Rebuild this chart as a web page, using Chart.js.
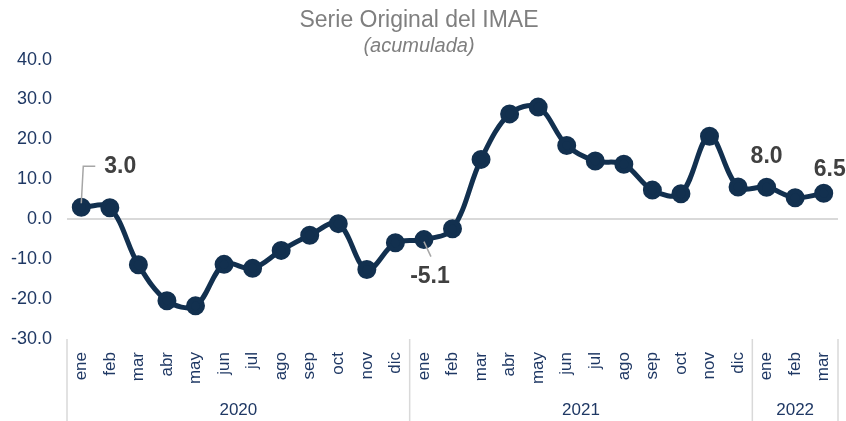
<!DOCTYPE html>
<html>
<head>
<meta charset="utf-8">
<script src="https://cdn.jsdelivr.net/npm/chart.js@4"></script>
<style>
  html, body { margin: 0; padding: 0; background: #fff; }
  #wrap { width: 846px; height: 421px; }
</style>
</head>
<body>
<div id="wrap"><canvas id="imae"></canvas></div>
<script>
// datos
const meses = ["ene","feb","mar","abr","may","jun","jul","ago","sep","oct","nov","dic",
               "ene","feb","mar","abr","may","jun","jul","ago","sep","oct","nov","dic",
               "ene","feb","mar"];
const anios = ["2020", "2021", "2022"];
const mesesPorAnio = [12, 12, 3];
const imae = [3.0, 2.9, -11.4, -20.4, -21.7, -11.3, -12.3, -7.8, -4.0, -1.1, -12.6, -5.9,
              -5.1, -2.4, 15.0, 26.4, 28.1, 18.5, 14.6, 13.8, 7.3, 6.4, 20.8, 8.1,
              8.0, 5.4, 6.5];
const etiquetados = [0, 12, 24, 26];
const yTicks = [-30, -20, -10, 0, 10, 20, 30, 40];

const azul = "#12304F";
const azulTexto = "#1F3864";
const gris = "#D9D9D9";

const etiquetasPlugin = {
    id: 'etiquetas',
    afterDatasetsDraw(chart) {
        const ctx = chart.ctx;
        const pts = chart.getDatasetMeta(0).data;
        // offsets de cada etiqueta respecto a su punto
        const pos = {
            0:  { dx: 39, dy: -41, lider: [[0, -4], [2, -41], [14, -41]] },
            12: { dx: 6, dy: 37, lider: [[0, 2], [7, 17]] },
            24: { dx: 0, dy: -31 },
            26: { dx: 6, dy: -24 }
        };
        ctx.save();
        etiquetados.forEach(i => {
            const p = pts[i];
            const o = pos[i];
            if (o.lider) {
                ctx.strokeStyle = "#A6A6A6";
                ctx.lineWidth = 1.5;
                ctx.beginPath();
                o.lider.forEach((d, k) => {
                    if (k === 0) ctx.moveTo(p.x + d[0], p.y + d[1]);
                    else ctx.lineTo(p.x + d[0], p.y + d[1]);
                });
                ctx.stroke();
            }
            ctx.fillStyle = "#404040";
            ctx.font = "bold 23px 'Liberation Sans', Arial, sans-serif";
            ctx.textAlign = "center";
            ctx.textBaseline = "middle";
            ctx.fillText(imae[i].toFixed(1), p.x + o.dx, p.y + o.dy);
        });
        ctx.restore();
    }
};

const aniosPlugin = {
    id: 'anios',
    afterDraw(chart) {
        const ctx = chart.ctx;
        const x = chart.scales.x;
        const area = chart.chartArea;
        const ancho = x.getPixelForValue(1) - x.getPixelForValue(0);
        ctx.save();
        ctx.strokeStyle = gris;
        ctx.lineWidth = 1.5;
        ctx.fillStyle = azulTexto;
        ctx.font = "17px 'Liberation Sans', Arial, sans-serif";
        ctx.textAlign = "center";
        ctx.textBaseline = "middle";
        let ini = 0;
        const linea = (px) => {
            ctx.beginPath();
            ctx.moveTo(px, area.bottom);
            ctx.lineTo(px, chart.height);
            ctx.stroke();
        };
        linea(x.getPixelForValue(0) - ancho / 2);
        anios.forEach((a, k) => {
            const fin = ini + mesesPorAnio[k] - 1;
            const izq = x.getPixelForValue(ini) - ancho / 2;
            const der = x.getPixelForValue(fin) + ancho / 2;
            linea(der);
            ctx.fillText(a, (izq + der) / 2, 410);
            ini = fin + 1;
        });
        ctx.restore();
    }
};

new Chart(document.getElementById("imae"), {
    type: 'line',
    data: {
        labels: meses,
        datasets: [{
            data: imae,
            borderColor: azul,
            backgroundColor: azul,
            borderWidth: 5,
            pointRadius: 7,
            pointHoverRadius: 7,
            pointBackgroundColor: azul,
            pointBorderColor: azul,
            tension: 0.35,
            fill: false,
            clip: false
        }]
    },
    options: {
        responsive: true,
        maintainAspectRatio: false,
        animation: false,
        layout: { autoPadding: false, padding: { top: 0, right: 8, bottom: 0, left: 0 } },
        plugins: {
            legend: { display: false },
            tooltip: { enabled: false },
            title: {
                display: true,
                text: "Serie Original del IMAE",
                color: "#7F7F7F",
                font: { family: "'Liberation Sans', Arial, sans-serif", size: 23, weight: 'normal' },
                padding: { top: 7, bottom: 0 }
            },
            subtitle: {
                display: true,
                text: "(acumulada)",
                color: "#7F7F7F",
                font: { family: "'Liberation Sans', Arial, sans-serif", size: 20, style: 'italic' },
                padding: { top: 0, bottom: 1 }
            }
        },
        scales: {
            x: {
                offset: true,
                grid: { display: false, drawTicks: false },
                border: { display: false },
                ticks: {
                    color: azulTexto,
                    font: { family: "'Liberation Sans', Arial, sans-serif", size: 17 },
                    minRotation: 90,
                    maxRotation: 90,
                    padding: 13,
                    autoSkip: false
                },
                afterFit(s) {
                    s.height = 82;
                    s.paddingLeft = 0;
                    s.paddingRight = 0;
                }
            },
            y: {
                min: -30,
                max: 40,
                afterBuildTicks(s) { s.ticks = yTicks.map(v => ({ value: v })); },
                grid: {
                    drawTicks: false,
                    color: c => c.tick && c.tick.value === 0 ? gris : 'rgba(0,0,0,0)',
                    lineWidth: 2
                },
                border: { display: false },
                ticks: {
                    color: azulTexto,
                    font: { family: "'Liberation Sans', Arial, sans-serif", size: 18 },
                    padding: 15,
                    callback: v => Number(v).toFixed(1)
                },
                afterFit(s) { s.width = 67; }
            }
        }
    },
    plugins: [etiquetasPlugin, aniosPlugin]
});
</script>
</body>
</html>
